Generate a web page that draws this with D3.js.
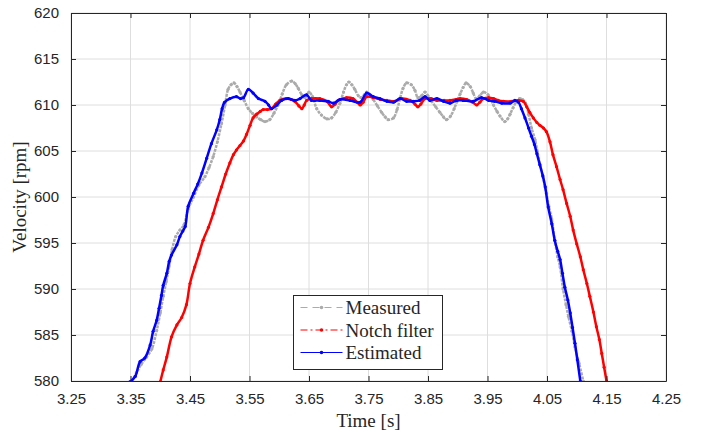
<!DOCTYPE html>
<html>
<head>
<meta charset="utf-8">
<script src="https://cdn.jsdelivr.net/npm/d3@7"></script>
<style>
  body { margin: 0; background: #fff; }
  .tick text { font-family: "Liberation Sans", Arial, sans-serif; font-size: 15px; fill: #262626; }
  .lbl { font-family: "Liberation Serif", "Times New Roman", serif; font-size: 19px; fill: #262626; }
</style>
</head>
<body>
<script>
// [time s, velocity rpm]
let measured = [[3.352,579.9],[3.360,580.9],[3.368,581.8],[3.377,582.6],[3.386,583.5],[3.394,585.5],[3.400,587.4],[3.405,589.2],[3.410,590.8],[3.415,592.5],[3.420,594.3],[3.426,595.7],[3.433,596.4],[3.440,597.0],[3.447,598.7],[3.456,600.0],[3.465,601.3],[3.475,602.2],[3.482,603.2],[3.489,604.4],[3.496,606.0],[3.503,608.0],[3.509,610.0],[3.514,611.7],[3.519,612.2],[3.524,612.4],[3.529,612.0],[3.534,611.4],[3.541,610.5],[3.548,609.6],[3.555,609.1],[3.562,608.7],[3.569,608.4],[3.576,608.2],[3.584,608.4],[3.591,609.1],[3.598,610.0],[3.605,611.2],[3.612,612.2],[3.621,612.6],[3.627,612.3],[3.632,611.8],[3.638,611.1],[3.643,610.8],[3.650,611.4],[3.656,610.9],[3.663,609.6],[3.671,608.9],[3.680,608.5],[3.688,608.6],[3.695,609.2],[3.702,610.2],[3.708,611.4],[3.713,612.2],[3.717,612.5],[3.722,612.2],[3.727,611.7],[3.733,611.0],[3.738,610.8],[3.747,611.4],[3.753,611.1],[3.758,610.6],[3.765,609.9],[3.772,609.2],[3.778,608.7],[3.783,608.4],[3.792,608.6],[3.798,609.5],[3.803,610.7],[3.808,611.8],[3.814,612.4],[3.822,612.2],[3.828,611.6],[3.833,610.8],[3.839,611.0],[3.845,611.4],[3.850,611.0],[3.856,610.4],[3.863,609.8],[3.870,609.2],[3.876,608.7],[3.881,608.4],[3.888,608.8],[3.894,609.6],[3.899,610.4],[3.904,611.2],[3.909,611.9],[3.914,612.4],[3.921,612.0],[3.926,611.3],[3.931,610.7],[3.937,611.0],[3.943,611.4],[3.951,611.1],[3.956,610.5],[3.960,610.0],[3.966,609.3],[3.971,608.8],[3.979,608.2],[3.984,608.5],[3.988,609.0],[3.993,609.7],[3.998,610.3],[4.004,610.7],[4.009,610.6],[4.014,610.2],[4.019,609.0],[4.024,607.5],[4.030,606.2],[4.034,604.9],[4.038,603.6],[4.043,602.2],[4.049,600.4],[4.053,599.0],[4.058,597.6],[4.063,595.3],[4.068,593.5],[4.072,592.4],[4.077,590.0],[4.082,588.3],[4.086,587.0],[4.092,585.4],[4.097,583.7],[4.104,581.9],[4.111,580.0]];

let notch = [[3.400,579.9],[3.405,581.2],[3.411,582.6],[3.419,584.8],[3.428,586.1],[3.436,586.9],[3.444,588.3],[3.450,590.6],[3.458,592.4],[3.465,593.8],[3.472,595.3],[3.481,596.7],[3.489,598.2],[3.496,599.7],[3.503,601.1],[3.510,602.5],[3.517,603.7],[3.523,604.6],[3.528,605.1],[3.534,605.6],[3.540,606.1],[3.545,606.8],[3.551,607.8],[3.556,608.6],[3.562,609.0],[3.568,609.3],[3.573,609.5],[3.580,609.5],[3.587,609.6],[3.594,610.1],[3.601,610.5],[3.612,610.7],[3.620,610.6],[3.626,610.4],[3.633,609.9],[3.638,609.6],[3.642,610.0],[3.646,610.5],[3.654,610.7],[3.668,610.7],[3.680,610.4],[3.688,609.8],[3.694,610.1],[3.699,610.5],[3.713,610.8],[3.724,610.7],[3.731,610.3],[3.736,610.0],[3.741,610.3],[3.747,610.9],[3.758,610.8],[3.770,610.6],[3.781,610.5],[3.794,610.4],[3.806,610.7],[3.820,610.5],[3.828,610.1],[3.833,609.8],[3.838,610.1],[3.845,610.7],[3.855,610.7],[3.865,610.5],[3.877,610.5],[3.887,610.5],[3.897,610.6],[3.904,610.7],[3.915,610.6],[3.925,610.3],[3.932,610.0],[3.937,610.3],[3.943,610.7],[3.952,610.8],[3.960,610.7],[3.968,610.5],[3.977,610.4],[3.991,610.4],[4.002,610.5],[4.010,610.4],[4.016,609.8],[4.021,609.2],[4.027,608.6],[4.033,608.1],[4.038,607.8],[4.044,607.5],[4.049,607.1],[4.055,606.0],[4.060,604.6],[4.066,603.3],[4.072,601.9],[4.077,600.8],[4.083,599.3],[4.089,597.9],[4.094,596.4],[4.100,594.9],[4.106,593.5],[4.111,592.1],[4.117,590.6],[4.122,589.2],[4.128,587.5],[4.133,585.9],[4.138,584.5],[4.142,583.0],[4.146,581.5],[4.150,580.0]];

let estimated = [[3.349,579.9],[3.358,580.5],[3.366,582.1],[3.374,582.5],[3.383,583.9],[3.388,585.4],[3.394,586.6],[3.398,587.9],[3.402,589.3],[3.405,590.4],[3.411,591.7],[3.415,593.0],[3.419,593.7],[3.428,594.8],[3.433,595.7],[3.438,596.3],[3.442,596.8],[3.447,599.0],[3.456,600.4],[3.463,601.4],[3.470,602.6],[3.478,604.2],[3.486,605.8],[3.495,607.3],[3.500,608.4],[3.504,609.6],[3.508,610.3],[3.517,610.7],[3.528,610.9],[3.535,610.7],[3.540,610.8],[3.548,611.7],[3.556,611.3],[3.565,610.7],[3.576,610.4],[3.582,610.0],[3.587,609.6],[3.596,610.0],[3.604,610.5],[3.615,610.7],[3.626,610.5],[3.635,610.7],[3.646,611.1],[3.654,610.5],[3.668,610.5],[3.682,610.4],[3.691,610.2],[3.702,610.6],[3.719,610.5],[3.736,610.3],[3.747,611.3],[3.758,610.9],[3.769,610.7],[3.781,610.4],[3.792,610.3],[3.803,610.7],[3.814,610.4],[3.825,610.4],[3.836,610.5],[3.845,610.9],[3.853,610.5],[3.865,610.7],[3.876,610.4],[3.887,610.2],[3.898,610.5],[3.909,610.5],[3.926,610.4],[3.940,610.8],[3.952,610.5],[3.962,610.4],[3.974,610.2],[3.988,610.2],[3.996,610.5],[4.002,610.3],[4.007,609.6],[4.013,608.6],[4.019,607.5],[4.024,606.6],[4.029,605.7],[4.033,604.7],[4.038,603.5],[4.043,602.3],[4.047,601.1],[4.052,598.9],[4.058,597.1],[4.063,595.3],[4.068,594.1],[4.072,593.2],[4.076,591.7],[4.080,590.2],[4.085,588.8],[4.089,587.4],[4.093,585.8],[4.097,584.1],[4.101,582.3],[4.106,580.0]];

let xTicks = [3.25, 3.35, 3.45, 3.55, 3.65, 3.75, 3.85, 3.95, 4.05, 4.15, 4.25];
let yTicks = [580, 585, 590, 595, 600, 605, 610, 615, 620];
let seriesNames = ["Measured", "Notch filter", "Estimated"];

let width = 708,
    height = 434,
    marginLeft = 71, marginTop = 13, plotW = 595, plotH = 368;

let svg = d3.select("body").append("svg")
    .attr("width", width).attr("height", height);
let g = svg.append("g")
    .attr("transform", "translate(" + marginLeft + "," + marginTop + ")");

let xScale = d3.scaleLinear().domain([3.25, 4.25]).range([0, plotW]);
let yScale = d3.scaleLinear().domain([580, 620]).range([plotH, 0]);

// grid
g.append("g").selectAll("line").data(xTicks).enter().append("line")
    .attr("x1", (d) => xScale(d)).attr("x2", (d) => xScale(d))
    .attr("y1", 0).attr("y2", plotH)
    .attr("stroke", "#dedede").attr("stroke-width", 1);
g.append("g").selectAll("line").data(yTicks).enter().append("line")
    .attr("y1", (d) => yScale(d)).attr("y2", (d) => yScale(d))
    .attr("x1", 0).attr("x2", plotW)
    .attr("stroke", "#dedede").attr("stroke-width", 1);

// series
g.append("clipPath").attr("id", "clip").append("rect")
    .attr("width", plotW).attr("height", plotH);
let plot = g.append("g").attr("clip-path", "url(#clip)");

let line = d3.line()
    .x((d) => xScale(d[0])).y((d) => yScale(d[1]))
    .curve(d3.curveCatmullRom);

let series = [
    { name: seriesNames[0], data: measured, color: "#ababab", dash: "3,1", legendDash: "7,5" },
    { name: seriesNames[1], data: notch, color: "#ff0000", dash: null, legendDash: "7,3,2,3" },
    { name: seriesNames[2], data: estimated, color: "#0000ff", dash: null, legendDash: null }
];

series.forEach((s) => {
    plot.append("path").datum(s.data)
        .attr("d", line)
        .attr("fill", "none")
        .attr("stroke", s.color)
        .attr("stroke-width", 2.5)
        .attr("stroke-dasharray", s.dash);
    plot.append("g").selectAll("circle").data(s.data).enter().append("circle")
        .attr("cx", (d) => xScale(d[0]))
        .attr("cy", (d) => yScale(d[1]))
        .attr("r", 1.6)
        .attr("fill", s.color);
});

// axes, ticks inward on all four sides
let xAxis = d3.axisBottom(xScale).tickValues(xTicks).tickFormat(d3.format(".2f"))
    .tickSizeInner(-5).tickSizeOuter(0).tickPadding(12);
let yAxis = d3.axisLeft(yScale).tickValues(yTicks)
    .tickSizeInner(-5).tickSizeOuter(0).tickPadding(12);
let xTop = d3.axisTop(xScale).tickValues(xTicks).tickFormat("")
    .tickSizeInner(-5).tickSizeOuter(0);
let yRight = d3.axisRight(yScale).tickValues(yTicks).tickFormat("")
    .tickSizeInner(-5).tickSizeOuter(0);

g.append("g").attr("transform", "translate(0," + plotH + ")").call(xAxis);
g.append("g").call(yAxis);
g.append("g").call(xTop);
g.append("g").attr("transform", "translate(" + plotW + ",0)").call(yRight);
g.selectAll(".domain").attr("stroke", "#262626");
g.selectAll(".tick line").attr("stroke", "#262626");

// labels
svg.append("text").attr("class", "lbl")
    .attr("x", marginLeft + plotW / 2).attr("y", 427)
    .attr("text-anchor", "middle").text("Time [s]");
svg.append("text").attr("class", "lbl")
    .attr("transform", "translate(26," + (marginTop + plotH / 2) + ") rotate(-90)")
    .attr("text-anchor", "middle").text("Velocity [rpm]");

// legend
let legend = svg.append("g").attr("transform", "translate(293.5,295.5)");
legend.append("rect").attr("width", 149).attr("height", 74)
    .attr("fill", "#fff").attr("stroke", "#262626").attr("stroke-width", 1);
series.forEach((s, i) => {
    let y = 12 + i * 22.5;
    legend.append("line")
        .attr("x1", 7).attr("x2", 49).attr("y1", y).attr("y2", y)
        .attr("stroke", s.color).attr("stroke-width", 1)
        .attr("stroke-dasharray", s.legendDash);
    legend.append("circle").attr("cx", 28).attr("cy", y).attr("r", 1.8).attr("fill", s.color);
    legend.append("text").attr("class", "lbl")
        .attr("x", 52).attr("y", y + 6.5).text(s.name);
});
</script>
</body>
</html>
